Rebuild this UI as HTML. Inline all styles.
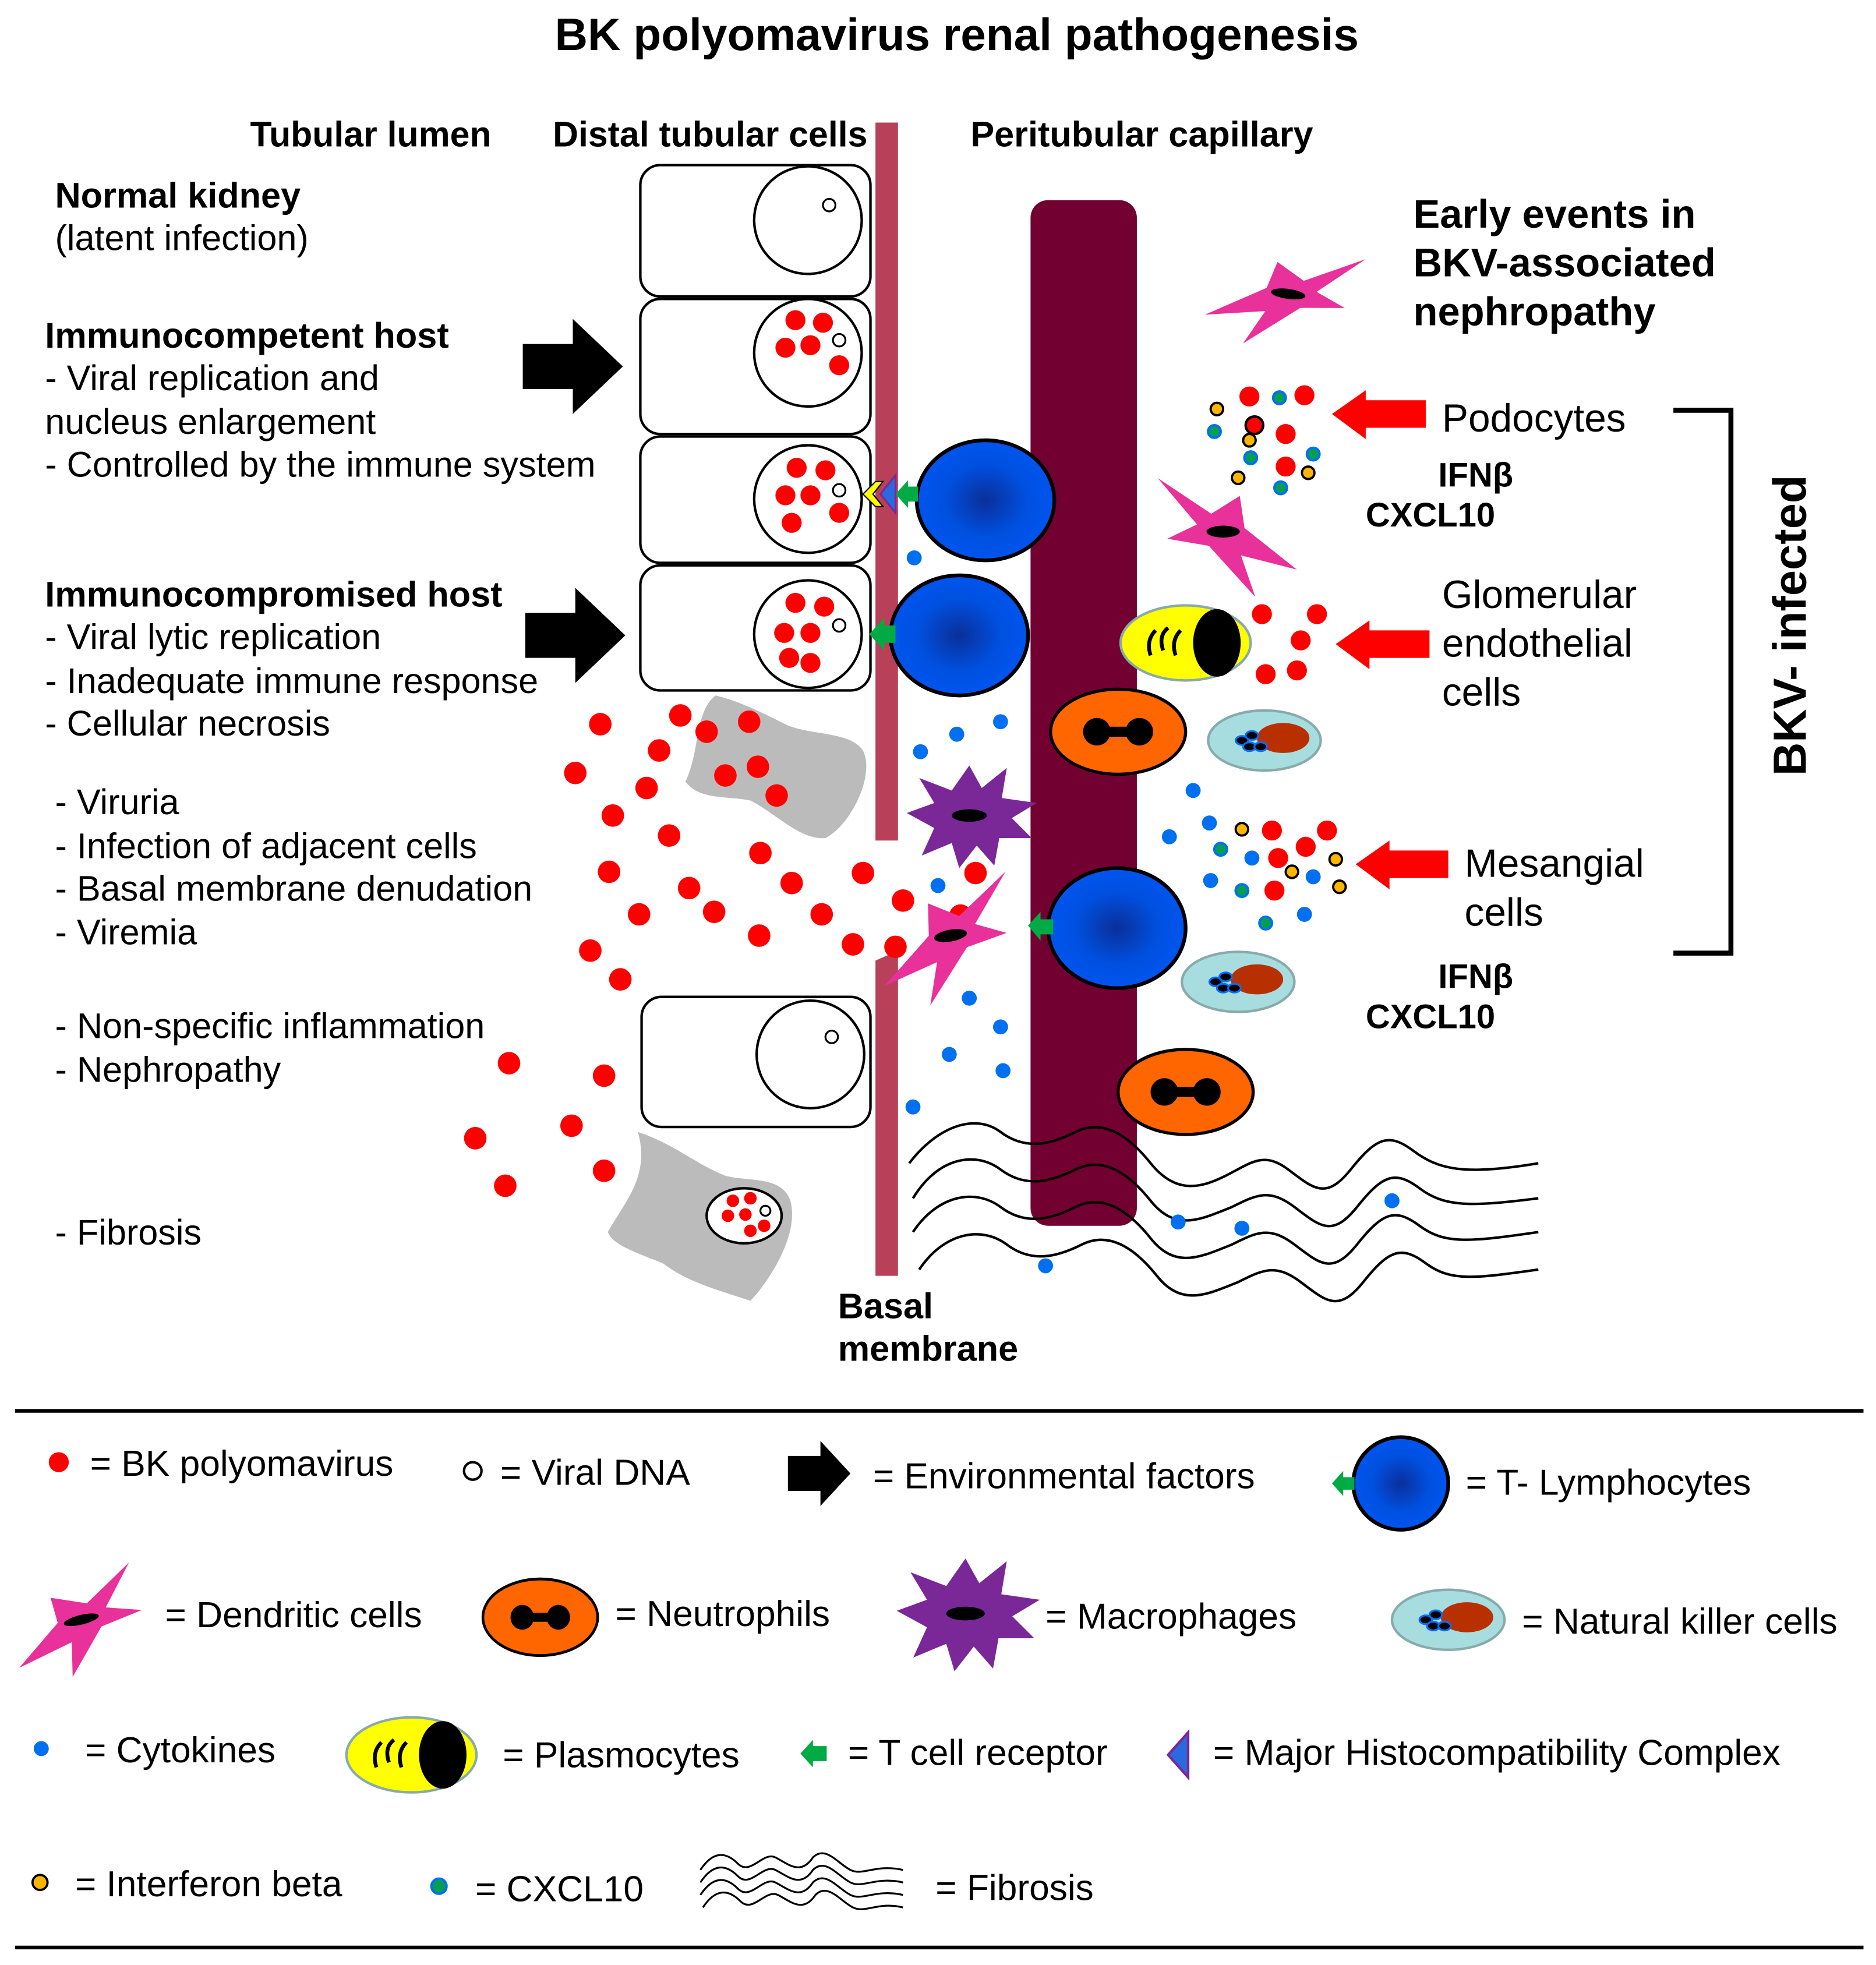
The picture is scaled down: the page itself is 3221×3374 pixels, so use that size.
<!DOCTYPE html>
<html><head><meta charset="utf-8"><style>
html,body{margin:0;padding:0;background:#fff}
svg{display:block}
text{font-family:"Liberation Sans",Arial,sans-serif;fill:#000}
.b{font-weight:bold}
</style></head><body>
<svg width="3221" height="3374" viewBox="0 0 1500 1571" preserveAspectRatio="none" xmlns="http://www.w3.org/2000/svg">
<defs>
<radialGradient id="tg"><stop offset="0" stop-color="#0a2f9a"/><stop offset="0.6" stop-color="#0050e0"/><stop offset="1" stop-color="#0055ee"/></radialGradient>
<g id="tcell"><ellipse cx="0" cy="0" rx="55" ry="48" fill="url(#tg)" stroke="#000" stroke-width="3"/></g>
<g id="neut"><ellipse cx="0" cy="0" rx="54" ry="34" fill="#ff6600" stroke="#000" stroke-width="2.5"/><circle cx="-17" cy="0" r="11"/><circle cx="17" cy="0" r="11"/><rect x="-17" y="-4" width="34" height="8"/></g>
<g id="nk"><ellipse cx="0" cy="0" rx="45" ry="24" fill="#a8dde0" stroke="#88aaaa" stroke-width="2"/><ellipse cx="15" cy="-2" rx="21" ry="12" fill="#b83000"/><g fill="#000" stroke="#0070ff" stroke-width="1.5"><ellipse cx="-18" cy="0" rx="5" ry="3.5"/><ellipse cx="-10" cy="-4" rx="5" ry="3.5"/><ellipse cx="-12" cy="5" rx="5" ry="3.5"/><ellipse cx="-3" cy="5" rx="5" ry="3.5"/></g></g>
<g id="plas"><ellipse cx="0" cy="0" rx="52" ry="30" fill="#ffff00" stroke="#88aaaa" stroke-width="2"/><ellipse cx="25" cy="0" rx="19" ry="27"/><g fill="none" stroke="#000" stroke-width="3"><path d="M-28 10 q-4 -12 4 -20"/><path d="M-18 6 q-4 -12 4 -18"/><path d="M-8 10 q-4 -12 4 -20"/></g></g>
<g id="dend"><polygon points="-55,-45 -10,-15 14,-30 18,-3 62,32 15,20 27,55 -12,12 -47,6 -22,-6" fill="#e8319a"/><ellipse cx="0" cy="0" rx="14" ry="5"/></g>
<g id="mac"><polygon points="0,-40 10,-22 30,-38 26,-14 54,-10 34,2 50,18 24,18 20,40 6,24 -8,42 -14,22 -38,32 -28,10 -50,-2 -28,-10 -40,-30 -14,-20" fill="#7a2898"/><ellipse cx="0" cy="0" rx="14" ry="5"/></g>
</defs>

<text x="765" y="40" font-size="36.5" class="b" text-anchor="middle">BK polyomavirus renal pathogenesis</text>
<text x="200" y="117" font-size="28.3" class="b">Tubular lumen</text>
<text x="442" y="117" font-size="28.3" class="b">Distal tubular cells</text>
<text x="776" y="117" font-size="28.5" class="b">Peritubular capillary</text>

<g font-size="28.5">
<text x="44" y="166" class="b">Normal kidney</text>
<text x="44" y="200">(latent infection)</text>
<text x="36" y="278" class="b">Immunocompetent host</text>
<text x="36" y="312">- Viral replication and</text>
<text x="36" y="347">nucleus enlargement</text>
<text x="36" y="381">- Controlled by the immune system</text>
<text x="36" y="485" class="b">Immunocompromised host</text>
<text x="36" y="519">-  Viral lytic replication</text>
<text x="36" y="554">-  Inadequate immune response</text>
<text x="36" y="588">-  Cellular necrosis</text>
<text x="44" y="651">-  Viruria</text>
<text x="44" y="686">-  Infection of adjacent cells</text>
<text x="44" y="720">-  Basal membrane denudation</text>
<text x="44" y="755">-  Viremia</text>
<text x="44" y="830">-  Non-specific inflammation</text>
<text x="44" y="865">-  Nephropathy</text>
<text x="44" y="995">- Fibrosis</text>
</g>

<polygon points="418,275 458,275 458,255 498,293 458,331 458,311 418,311"/>
<polygon points="420,490 460,490 460,470 500,508 460,546 460,526 420,526"/>

<rect x="824" y="160" width="85" height="820" rx="14" fill="#720030"/>

<g fill="none" stroke="#000" stroke-width="2">
<path d="M727 930 C750 900,780 890,800 905 C820 920,840 915,860 905 C880 895,900 905,920 930 C940 955,960 950,980 940 C1000 930,1010 920,1030 935 C1050 950,1060 960,1080 935 C1100 910,1110 905,1130 920 C1150 935,1170 940,1230 930"/>
<path d="M730 958 C750 925,780 920,800 935 C820 950,840 945,860 935 C880 925,900 935,920 960 C940 985,960 975,985 965 C1005 955,1015 950,1035 965 C1055 980,1065 990,1085 965 C1105 940,1115 935,1135 950 C1155 965,1175 965,1230 958"/>
<path d="M730 985 C750 955,780 950,800 965 C820 980,840 975,860 965 C880 955,900 965,920 990 C940 1015,960 1005,985 995 C1005 985,1015 980,1035 995 C1055 1010,1065 1020,1085 995 C1105 970,1115 965,1135 980 C1155 995,1175 993,1230 985"/>
<path d="M735 1015 C755 985,785 980,805 995 C825 1010,845 1005,865 995 C885 985,905 995,925 1020 C945 1045,965 1035,990 1025 C1010 1015,1020 1010,1040 1025 C1060 1040,1070 1050,1090 1025 C1110 1000,1120 995,1140 1010 C1160 1025,1180 1022,1230 1015"/>
</g>

<polygon points="700,98 718,98 718,672 700,672" fill="#b84059"/>
<polygon points="700,768 718,760 718,1020 700,1020" fill="#b84059"/>
<text x="670" y="1054" font-size="28.5" class="b">Basal</text>
<text x="670" y="1088" font-size="28.5" class="b">membrane</text>

<g fill="#fff" stroke="#000" stroke-width="2">
<rect x="512" y="132" width="184" height="105" rx="16"/>
<rect x="512" y="239" width="184" height="108" rx="16"/>
<rect x="512" y="349" width="184" height="101" rx="16"/>
<rect x="512" y="452" width="184" height="100" rx="16"/>
<rect x="513" y="797" width="183" height="104" rx="16"/>
<circle cx="646" cy="176" r="43"/>
<circle cx="646" cy="282" r="43"/>
<circle cx="646" cy="399" r="43"/>
<circle cx="646" cy="507" r="43"/>
<circle cx="648" cy="843" r="43"/>
</g>
<g fill="#fff" stroke="#000" stroke-width="1.5">
<circle cx="663" cy="164" r="5"/><circle cx="671" cy="272" r="5"/><circle cx="671" cy="392" r="5"/><circle cx="671" cy="500" r="5"/><circle cx="665" cy="829" r="5"/>
</g>
<g fill="#f00">
<circle cx="636" cy="256" r="8"/><circle cx="658" cy="258" r="8"/><circle cx="628" cy="278" r="8"/><circle cx="648" cy="276" r="8"/><circle cx="671" cy="292" r="8"/>
<circle cx="637" cy="374" r="8"/><circle cx="660" cy="376" r="8"/><circle cx="628" cy="396" r="8"/><circle cx="648" cy="396" r="8"/><circle cx="671" cy="410" r="8"/><circle cx="633" cy="418" r="8"/>
<circle cx="636" cy="482" r="8"/><circle cx="659" cy="485" r="8"/><circle cx="627" cy="506" r="8"/><circle cx="648" cy="506" r="8"/><circle cx="631" cy="526" r="8"/><circle cx="648" cy="530" r="8"/>
</g>

<path d="M572 556 C590 560,610 570,630 580 C650 588,680 585,690 600 C700 620,680 660,660 670 C640 672,620 650,600 640 C580 636,560 640,548 625 C560 600,555 570,572 556Z" fill="#bbb"/>
<path d="M510 905 C540 915,555 930,580 940 C600 945,625 940,632 960 C640 990,610 1030,600 1040 C570 1030,550 1025,530 1010 C505 1000,490 995,486 985 C500 960,520 940,510 905Z" fill="#bbb"/>
<ellipse cx="595" cy="972" rx="30" ry="22" fill="#fff" stroke="#000" stroke-width="2"/>
<g fill="#f00"><circle cx="586" cy="960" r="5"/><circle cx="600" cy="958" r="5"/><circle cx="582" cy="972" r="5"/><circle cx="596" cy="971" r="5"/><circle cx="611" cy="980" r="5"/><circle cx="600" cy="984" r="5"/></g>
<circle cx="612" cy="968" r="4" fill="#fff" stroke="#000" stroke-width="1.5"/>

<g fill="#f00">
<circle cx="480" cy="579" r="9"/><circle cx="544" cy="572" r="9"/><circle cx="565" cy="585" r="9"/><circle cx="599" cy="577" r="9"/><circle cx="527" cy="600" r="9"/><circle cx="460" cy="618" r="9"/><circle cx="517" cy="630" r="9"/><circle cx="580" cy="620" r="9"/><circle cx="606" cy="613" r="9"/><circle cx="621" cy="636" r="9"/><circle cx="490" cy="652" r="9"/><circle cx="535" cy="668" r="9"/><circle cx="608" cy="682" r="9"/><circle cx="487" cy="697" r="9"/><circle cx="551" cy="710" r="9"/><circle cx="633" cy="706" r="9"/><circle cx="690" cy="698" r="9"/><circle cx="722" cy="720" r="9"/><circle cx="511" cy="731" r="9"/><circle cx="571" cy="729" r="9"/><circle cx="657" cy="731" r="9"/><circle cx="607" cy="748" r="9"/><circle cx="682" cy="755" r="9"/><circle cx="716" cy="757" r="9"/><circle cx="780" cy="698" r="9"/><circle cx="768" cy="732" r="9"/><circle cx="472" cy="760" r="9"/><circle cx="496" cy="783" r="9"/><circle cx="407" cy="850" r="9"/><circle cx="483" cy="860" r="9"/><circle cx="380" cy="910" r="9"/><circle cx="457" cy="900" r="9"/><circle cx="483" cy="936" r="9"/><circle cx="404" cy="948" r="9"/>
</g>
<g fill="#0070f0">
<circle cx="731" cy="446" r="6"/><circle cx="736" cy="601" r="6"/><circle cx="765" cy="587" r="6"/><circle cx="800" cy="577" r="6"/><circle cx="750" cy="708" r="6"/><circle cx="775" cy="798" r="6"/><circle cx="800" cy="821" r="6"/><circle cx="759" cy="843" r="6"/><circle cx="802" cy="856" r="6"/><circle cx="730" cy="885" r="6"/><circle cx="954" cy="632" r="6"/><circle cx="935" cy="669" r="6"/><circle cx="942" cy="977" r="6"/><circle cx="993" cy="982" r="6"/><circle cx="836" cy="1012" r="6"/><circle cx="1113" cy="960" r="6"/>
</g>

<use href="#tcell" x="788" y="400"/>
<use href="#tcell" x="767" y="508"/>
<use href="#tcell" x="893" y="742"/>
<polygon points="690,395 700,385 706,385 698,395 706,405 700,405" fill="#ff0" stroke="#000" stroke-width="1"/>
<polygon points="704,395 716,380 716,410" fill="#2a6ae0" stroke="#7a2898" stroke-width="1.5"/>
<polygon points="716,395 726,384 726,389 734,389 734,401 726,401 726,406" fill="#00aa44"/>
<polygon points="695,507 707,494 707,500 716,500 716,514 707,514 707,520" fill="#00aa44"/>
<polygon points="822,740 832,729 832,735 842,735 842,747 832,747 832,752" fill="#00aa44"/>
<use href="#neut" x="894" y="585"/>
<use href="#neut" x="948" y="873"/>
<use href="#nk" x="1011" y="592"/>
<use href="#nk" x="990" y="785"/>
<use href="#plas" x="948" y="514"/>
<g transform="translate(1030,235) scale(-1,0.8) rotate(-10)"><use href="#dend"/></g>
<g transform="translate(978,425) scale(0.95)"><use href="#dend"/></g>
<g transform="translate(760,748) scale(-1,1) rotate(10) scale(0.95)"><use href="#dend"/></g>
<use href="#mac" x="775" y="652"/>

<g fill="#f00">
<circle cx="999" cy="317" r="8"/><circle cx="1043" cy="316" r="8"/><circle cx="1028" cy="347" r="8"/><circle cx="1028" cy="373" r="8"/>
<circle cx="1009" cy="491" r="8"/><circle cx="1053" cy="491" r="8"/><circle cx="1040" cy="512" r="8"/><circle cx="1012" cy="539" r="8"/><circle cx="1037" cy="536" r="8"/>
<circle cx="1017" cy="664" r="8"/><circle cx="1061" cy="664" r="8"/><circle cx="1044" cy="677" r="8"/><circle cx="1022" cy="686" r="8"/><circle cx="1019" cy="712" r="8"/>
</g>
<circle cx="1003" cy="340" r="7" fill="#f00" stroke="#000" stroke-width="2"/>
<g fill="#ffb400" stroke="#000" stroke-width="1.8">
<circle cx="973" cy="327" r="5"/><circle cx="999" cy="352" r="5"/><circle cx="990" cy="382" r="5"/><circle cx="1046" cy="378" r="5"/>
<circle cx="993" cy="663" r="5"/><circle cx="1033" cy="697" r="5"/><circle cx="1068" cy="687" r="5"/><circle cx="1071" cy="709" r="5"/>
</g>
<g fill="#00a050" stroke="#0070f0" stroke-width="2">
<circle cx="1023" cy="318" r="5"/><circle cx="971" cy="345" r="5"/><circle cx="1000" cy="366" r="5"/><circle cx="1050" cy="363" r="5"/><circle cx="1024" cy="390" r="5"/>
<circle cx="976" cy="679" r="5"/><circle cx="993" cy="712" r="5"/><circle cx="1012" cy="738" r="5"/>
</g>
<g fill="#0070f0">
<circle cx="967" cy="658" r="6"/><circle cx="1001" cy="686" r="6"/><circle cx="1050" cy="701" r="6"/><circle cx="968" cy="704" r="6"/><circle cx="1043" cy="731" r="6"/>
</g>

<polygon points="1065,331 1092,312 1092,320 1140,320 1140,342 1092,342 1092,351" fill="#f00"/>
<polygon points="1068,515 1095,496 1095,504 1143,504 1143,526 1095,526 1095,535" fill="#f00"/>
<polygon points="1084,691 1111,672 1111,680 1158,680 1158,702 1111,702 1111,711" fill="#f00"/>

<text x="1130" y="182" font-size="32" class="b">Early events in</text>
<text x="1130" y="221" font-size="32" class="b">BKV-associated</text>
<text x="1130" y="260" font-size="32" class="b">nephropathy</text>
<g font-size="31.5">
<text x="1153" y="345">Podocytes</text>
<text x="1153" y="486">Glomerular</text>
<text x="1153" y="525">endothelial</text>
<text x="1153" y="564">cells</text>
<text x="1171" y="701">Mesangial</text>
<text x="1171" y="740">cells</text>
</g>
<g font-size="27" class="b">
<text x="1150" y="389">IFNβ</text><text x="1092" y="421">CXCL10</text>
<text x="1150" y="790">IFNβ</text><text x="1092" y="822">CXCL10</text>
</g>
<polyline points="1338,328 1384,328 1384,762 1338,762" fill="none" stroke="#000" stroke-width="4"/>
<text transform="translate(1444,500) rotate(-90)" font-size="37" class="b" text-anchor="middle">BKV- infected</text>

<line x1="12" y1="1128" x2="1490" y2="1128" stroke="#000" stroke-width="3"/>
<line x1="12" y1="1557" x2="1490" y2="1557" stroke="#000" stroke-width="3"/>
<g font-size="29">
<circle cx="47" cy="1169" r="8" fill="#f00"/><text x="72" y="1180">= BK polyomavirus</text>
<circle cx="378" cy="1176" r="7" fill="#fff" stroke="#000" stroke-width="2"/><text x="400" y="1187">= Viral DNA</text>
<polygon points="630,1164 656,1164 656,1152 680,1178 656,1204 656,1192 630,1192"/><text x="698" y="1190">= Environmental factors</text>
<ellipse cx="1120" cy="1186" rx="38" ry="37" fill="url(#tg)" stroke="#000" stroke-width="3"/>
<polygon points="1065,1186 1074,1176 1074,1181 1083,1181 1083,1191 1074,1191 1074,1196" fill="#00aa44"/>
<text x="1172" y="1195">= T-  Lymphocytes</text>

<g transform="translate(65,1295) scale(-1.05,0.75) rotate(20)"><use href="#dend"/></g><text x="132" y="1301">= Dendritic cells</text>
<g transform="translate(432,1293) scale(0.85,0.9)"><use href="#neut"/></g><text x="492" y="1300">= Neutrophils</text>
<g transform="translate(772,1290) scale(1.1)"><use href="#mac"/></g><text x="836" y="1302">= Macrophages</text>
<use href="#nk" x="1158" y="1295"/><text x="1217" y="1306">= Natural killer cells</text>

<circle cx="33" cy="1398" r="6" fill="#0070f0"/><text x="68" y="1409">= Cytokines</text>
<use href="#plas" x="329" y="1403"/><text x="402" y="1413">= Plasmocytes</text>
<polygon points="640,1402 650,1391 650,1396 661,1396 661,1408 650,1408 650,1413" fill="#00aa44"/><text x="678" y="1411">= T cell receptor</text>
<polygon points="934,1403 950,1385 950,1421" fill="#2a6ae0" stroke="#7a2898" stroke-width="2"/><text x="970" y="1411">= Major Histocompatibility Complex</text>

<circle cx="32" cy="1505" r="6" fill="#ffb400" stroke="#000" stroke-width="1.8"/><text x="60" y="1516">= Interferon beta</text>
<circle cx="351" cy="1508" r="6" fill="#00a050" stroke="#0070f0" stroke-width="2"/><text x="380" y="1520">= CXCL10</text>
<g fill="none" stroke="#000" stroke-width="1.5">
<path d="M560 1495 C570 1480,580 1480,590 1490 C600 1500,610 1480,620 1485 C630 1490,640 1500,650 1485 C660 1475,670 1490,680 1495 C690 1500,700 1490,722 1495"/>
<path d="M560 1505 C570 1490,580 1490,590 1500 C600 1510,610 1490,620 1495 C630 1500,640 1510,650 1495 C660 1485,670 1500,680 1505 C690 1510,700 1500,722 1505"/>
<path d="M560 1515 C570 1500,580 1500,590 1510 C600 1520,610 1500,620 1505 C630 1510,640 1520,650 1505 C660 1495,670 1510,680 1515 C690 1520,700 1510,722 1515"/>
<path d="M562 1525 C572 1510,582 1510,592 1520 C602 1530,612 1510,622 1515 C632 1520,642 1530,652 1515 C662 1505,672 1520,682 1525 C692 1530,702 1520,722 1525"/>
</g>
<text x="748" y="1519">= Fibrosis</text>
</g>
</svg>
</body></html>
